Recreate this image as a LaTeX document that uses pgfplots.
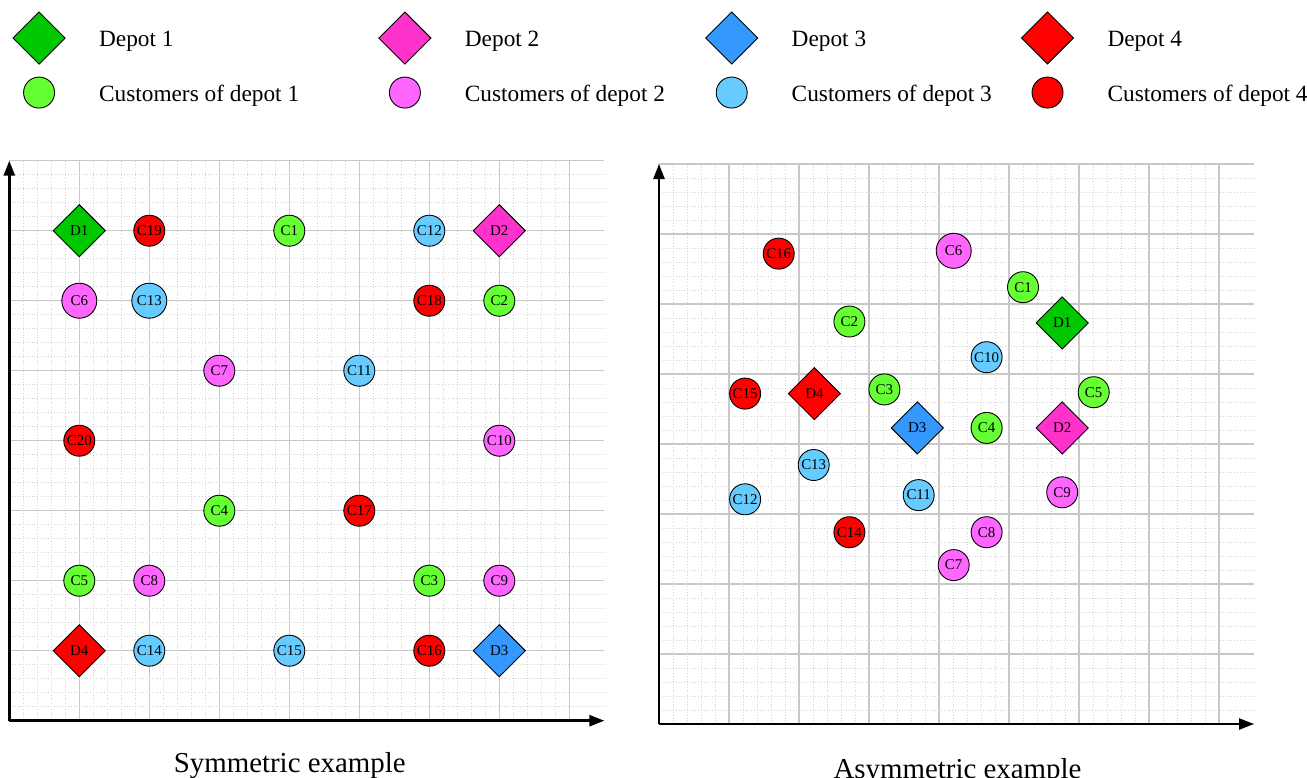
\documentclass[border=0pt]{standalone}
\usepackage{fontspec}
\setmainfont{Liberation Serif}
\usepackage{pgfplots}
\pgfplotsset{compat=1.18}
\usetikzlibrary{arrows.meta}
\definecolor{dep1}{RGB}{0,200,0}
\definecolor{cus1}{RGB}{102,255,51}
\definecolor{dep2}{RGB}{255,51,204}
\definecolor{cus2}{RGB}{255,102,255}
\definecolor{dep3}{RGB}{51,153,255}
\definecolor{cus3}{RGB}{102,204,255}
\definecolor{dep4}{RGB}{255,0,0}
\definecolor{cus4}{RGB}{255,0,0}
\definecolor{majgrid}{RGB}{200,200,200}
\definecolor{mingrid}{RGB}{212,212,212}
\pgfplotsset{
  mapgrid/.style={
    scale only axis, width=595bp, height=560bp,
    xmin=0, xmax=8.5, ymin=0, ymax=8,
    axis lines=left,
    axis line style={line width=2.6bp, -{Triangle[length=15bp,width=11bp]}},
    xtick={0,...,8}, ytick={0,...,8},
    minor tick num=4,
    grid=both,
    major grid style={majgrid, line width=1.1bp},
    minor grid style={mingrid, line width=0.8bp, dotted},
    major tick length=0pt, minor tick length=0pt,
    xticklabels={}, yticklabels={},
    clip=false,
    nodes near coords,
    point meta=explicit symbolic,
    every node near coord/.append style={anchor=center, font=\fontsize{15}{16}\selectfont, inner sep=0pt, text=black},
  },
  dep/.style={only marks, draw=black, fill=#1, mark=square*, mark size=18.4bp, mark options={rotate=45, draw=black, fill=#1, line width=0.9bp}},
  cus/.style={only marks, draw=black, fill=#1, mark=*, mark size=15.5bp, mark options={draw=black, fill=#1, line width=0.9bp}},
  bigcus/.style={only marks, draw=black, fill=#1, mark=*, mark size=17.5bp, mark options={draw=black, fill=#1, line width=0.9bp}},
}
\begin{document}
\begin{tikzpicture}
\useasboundingbox (0bp,0bp) rectangle (1307bp,-778bp);
% ---------------- Symmetric example ----------------
\begin{axis}[mapgrid,
  at={(9.3bp,-720.7bp)}, anchor=origin,
  xlabel={Symmetric example},
  xlabel style={at={(axis description cs:0.4713,0)}, anchor=base, yshift=-51.3bp, font=\fontsize{29}{34}\selectfont},
  legend columns=4,
  legend cell align=left,
  legend image code/.code={\draw[#1, yshift=1.5bp] plot coordinates {(0bp,0bp)};},
  legend style={
    at={(axis description cs:0.0063,1.2655)}, anchor=north west,
    draw=none, fill=none, inner sep=0pt, outer sep=0pt,
    font=\fontsize{23.4}{28}\selectfont,
    nodes={inner sep=0pt},
    row sep=13bp,
    /tikz/every odd column/.append style={column sep=34bp},
    /tikz/column 2/.style={column sep=79.7bp},
    /tikz/column 4/.style={column sep=40.7bp},
    /tikz/column 6/.style={column sep=29.7bp},
  },
]
\addplot[dep=dep1] table[meta=label] {
x y label
1 7 D1
};
\addlegendentry{Depot 1}
\addplot[dep=dep2] table[meta=label] {
x y label
7 7 D2
};
\addlegendentry{Depot 2}
\addplot[dep=dep3] table[meta=label] {
x y label
7 1 D3
};
\addlegendentry{Depot 3}
\addplot[dep=dep4] table[meta=label] {
x y label
1 1 D4
};
\addlegendentry{Depot 4}
\addplot[cus=cus1] table[meta=label] {
x y label
4 7 C1
7 6 C2
6 2 C3
3 3 C4
1 2 C5
};
\addlegendentry{Customers of depot 1}
\addplot[cus=cus2] table[meta=label] {
x y label
3 5 C7
2 2 C8
7 2 C9
7 4 C10
};
\addlegendentry{Customers of depot 2}
\addplot[cus=cus3] table[meta=label] {
x y label
5 5 C11
6 7 C12
2 1 C14
4 1 C15
};
\addlegendentry{Customers of depot 3}
\addplot[cus=cus4] table[meta=label] {
x y label
6 1 C16
5 3 C17
6 6 C18
2 7 C19
1 4 C20
};
\addlegendentry{Customers of depot 4}
\addplot[bigcus=cus2, forget plot] table[meta=label] {
x y label
1 6 C6
};
\addplot[bigcus=cus3, forget plot] table[meta=label] {
x y label
2 6 C13
};
\end{axis}
% ---------------- Asymmetric example ----------------
\begin{axis}[mapgrid,
  at={(659bp,-724bp)}, anchor=origin,
  xlabel={Asymmetric example},
  xlabel style={at={(axis description cs:0.5017,0)}, anchor=base, yshift=-54.4bp, font=\fontsize{29}{34}\selectfont},
]
\addplot[dep=dep1] table[meta=label] {
x y label
5.76 5.73 D1
};
\addplot[dep=dep2] table[meta=label] {
x y label
5.76 4.23 D2
};
\addplot[dep=dep3] table[meta=label] {
x y label
3.69 4.23 D3
};
\addplot[dep=dep4] table[meta=label] {
x y label
2.22 4.72 D4
};
\addplot[cus=cus1] table[meta=label] {
x y label
5.20 6.24 C1
2.72 5.75 C2
3.22 4.78 C3
4.68 4.23 C4
6.21 4.74 C5
};
\addplot[bigcus=cus2] table[meta=label] {
x y label
4.21 6.76 C6
};
\addplot[cus=cus2] table[meta=label] {
x y label
4.21 2.27 C7
4.68 2.74 C8
5.76 3.31 C9
};
\addplot[cus=cus3] table[meta=label] {
x y label
4.68 5.24 C10
3.71 3.27 C11
1.23 3.21 C12
2.21 3.70 C13
};
\addplot[cus=cus4] table[meta=label] {
x y label
2.72 2.74 C14
1.23 4.72 C15
1.71 6.72 C16
};
\end{axis}
\end{tikzpicture}
\end{document}
